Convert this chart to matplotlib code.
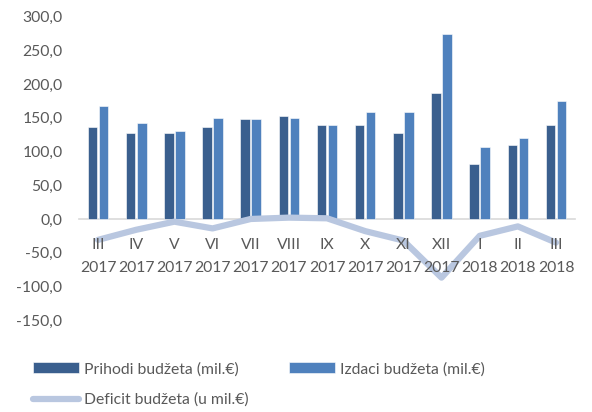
import numpy as np
import matplotlib.pyplot as plt
from matplotlib.ticker import FuncFormatter

plt.rcParams['font.family'] = ['Lato', 'DejaVu Sans']

mjeseci = ['III', 'IV', 'V', 'VI', 'VII', 'VIII', 'IX', 'X', 'XI', 'XII', 'I', 'II', 'III']
godine = ['2017'] * 10 + ['2018'] * 3
prihodi = [137, 127, 127, 136, 148, 152, 140, 140, 127, 187, 82, 109, 140]
izdaci = [168, 143, 131, 150, 148, 150, 139, 158, 159, 274, 107, 120, 175]
deficit = [-31, -16, -4, -14, 0, 2, 1, -18, -32, -87, -25, -11, -35]

siva = '#595959'
x = np.arange(len(mjeseci))

fig = plt.figure(figsize=(5.92, 4.12), dpi=100)
ax = fig.add_axes([0.1334, 0.223, 0.838, 0.7365])

b1 = ax.bar(x - 0.145, prihodi, 0.25, color='#3A5F8E', edgecolor='white', linewidth=0.4, zorder=2)
b2 = ax.bar(x + 0.145, izdaci, 0.25, color='#4F81BD', edgecolor='white', linewidth=0.4, zorder=2)
l1, = ax.plot(x, deficit, color='#B9C7E0', linewidth=4.5, solid_capstyle='round', zorder=3)

ax.set_xlim(-0.5, len(x) - 0.5)
ax.set_ylim(-150, 300)
ax.set_yticks(np.arange(-150, 301, 50))
ax.yaxis.set_major_formatter(FuncFormatter(lambda v, p: f'{v:.1f}'.replace('.', ',')))
ax.tick_params(axis='y', length=0, pad=12, labelsize=11.3, labelcolor=siva)

# month on major ticks, year on minor ticks at the same spots
ax.xaxis.remove_overlapping_locs = False
ax.set_xticks(x)
ax.set_xticklabels(mjeseci)
ax.set_xticks(x, minor=True)
ax.set_xticklabels(godine, minor=True)
ax.tick_params(axis='x', which='major', length=0, pad=14, labelsize=11.3, labelcolor=siva)
ax.tick_params(axis='x', which='minor', length=0, pad=30.5, labelsize=11.3, labelcolor=siva)
ax.xaxis.set_zorder(5)

for s in ['top', 'right', 'left']:
    ax.spines[s].set_visible(False)
ax.spines['bottom'].set_position(('data', 0))
ax.spines['bottom'].set_color('#D9D9D9')
ax.spines['bottom'].set_linewidth(1.2)
ax.spines['bottom'].set_zorder(1)

fig.legend([b1, l1, b2],
           ['Prihodi budžeta (mil.€)', 'Deficit budžeta (u mil.€)', 'Izdaci budžeta (mil.€)'],
           ncol=2, loc='upper left', bbox_to_anchor=(33 / 592, 1 - 362 / 412),
           frameon=False, fontsize=11.3, labelcolor=siva, handlelength=2.9,
           handleheight=0.7, handletextpad=0.35, columnspacing=2.6,
           borderpad=0, borderaxespad=0, labelspacing=1.05)

plt.savefig('out.png', dpi=100)
